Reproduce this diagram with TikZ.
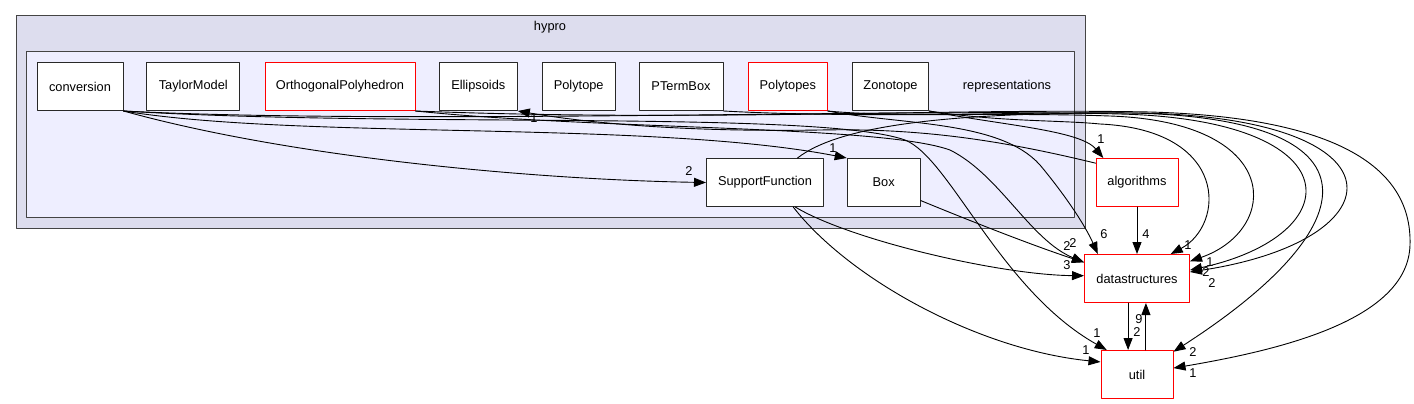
\documentclass[tikz,border=0pt]{standalone}
\usepackage{fontspec}
\setmainfont{Liberation Sans}
\usetikzlibrary{arrows.meta}

\definecolor{hyprofill}{RGB}{221,221,238}
\definecolor{reprfill}{RGB}{238,238,255}
\definecolor{frameline}{RGB}{68,68,68}
\definecolor{boxline}{RGB}{40,40,40}
\definecolor{redline}{RGB}{255,0,0}

\begin{document}
\begin{tikzpicture}[x=1pt,y=-1pt,line cap=round,line join=round,
    font=\fontsize{12.8}{15}\selectfont,
    dirbox/.style={draw=boxline,fill=white,line width=1pt,minimum height=48pt,inner sep=0pt},
    redbox/.style={dirbox,draw=redline},
    clusterframe/.style={draw=frameline,line width=1pt},
    dep/.style={-{Triangle[length=12pt,width=9pt]},line width=0.9pt},
    deplabel/.style={inner sep=0pt}]

    \useasboundingbox (0,0) rectangle (1414,404);

    % Carpetas contenedoras
    \draw[clusterframe,fill=hyprofill] (16,16) rectangle (1085,228);
    \draw[clusterframe,fill=reprfill] (26.7,51.7) rectangle (1074,217);
    \node (hypro) at (550,27) {hypro};
    \node (representations) at (1007,86.5) {representations};

    % Subcarpetas de representations
    \node[dirbox,minimum width=86pt] (conversion) at (80,86.5) {conversion};
    \node[dirbox,minimum width=93pt] (TaylorModel) at (193.3,86.5) {TaylorModel};
    \node[redbox,minimum width=150pt] (OrthogonalPolyhedron) at (340,86.5) {OrthogonalPolyhedron};
    \node[dirbox,minimum width=78pt] (Ellipsoids) at (478.3,86.5) {Ellipsoids};
    \node[dirbox,minimum width=73pt] (Polytope) at (578.7,86.5) {Polytope};
    \node[dirbox,minimum width=84pt] (PTermBox) at (681,86.5) {PTermBox};
    \node[redbox,minimum width=79pt] (Polytopes) at (787.8,86.5) {Polytopes};
    \node[dirbox,minimum width=76pt] (Zonotope) at (890.5,86.5) {Zonotope};
    \node[dirbox,minimum width=117pt] (SupportFunction) at (765,182.5) {SupportFunction};
    \node[dirbox,minimum width=73pt] (Box) at (883.7,182.5) {Box};

    % Carpetas externas
    \node[redbox,minimum width=82pt] (algorithms) at (1137,182.5) {algorithms};
    \node[redbox,minimum width=105pt] (datastructures) at (1137,278.5) {datastructures};
    \node[redbox,minimum width=72pt] (util) at (1137,374.5) {util};

    % Dependencias internas
    \draw[dep] (conversion.south east) .. controls (300,160) and (550,180) .. (SupportFunction.west);
    \draw[dep] (conversion.south east) .. controls (300,140) and (650,120) .. (Box.north west);
    \draw[dep] (algorithms.155) .. controls (1000,140) and (920,128) .. (820,130)
        .. controls (700,132) and (600,125) .. (Ellipsoids.south east);
    \draw[dep] (Zonotope.south east) .. controls (1000,125) and (1080,130) .. (algorithms.144);

    % Dependencias hacia abajo
    \draw[dep] (algorithms) -- (datastructures);
    \draw[dep] (datastructures.-110) -- (util.110);
    \draw[dep] (util.70) -- (datastructures.-70);
    \draw[dep] (Box.-26) .. controls (980,225) and (1040,248) .. (datastructures.163);
    \draw[dep] (SupportFunction.-39) .. controls (850,240) and (1000,275) .. (datastructures.177);
    \draw[dep] (SupportFunction.-41) .. controls (850,280) and (980,350) .. (util.161);
    \draw[dep] (conversion.south east) .. controls (400,128) and (820,110) .. (905,140)
        .. controls (950,158) and (1000,290) .. (util.141);
    \draw[dep] (OrthogonalPolyhedron.south east) .. controls (600,130) and (880,125) .. (950,150)
        .. controls (1000,175) and (1030,240) .. (datastructures.163);
    \draw[dep] (Polytopes.south east) .. controls (900,125) and (1000,120) .. (1040,165)
        .. controls (1065,195) and (1085,225) .. (datastructures.148);

    % Arcos por la derecha
    \draw[dep] (Zonotope.south east) .. controls (1000,122) and (1060,120) .. (1100,124)
        .. controls (1230,130) and (1225,225) .. (datastructures.36);
    \draw[dep] (PTermBox.south east) .. controls (850,118) and (1000,112) .. (1110,116)
        .. controls (1285,122) and (1280,230) .. (datastructures.18);
    \draw[dep] (conversion.south east) .. controls (400,125) and (900,108) .. (1120,114)
        .. controls (1355,120) and (1350,235) .. (datastructures.9);
    \draw[dep] (Polytopes.south east) .. controls (900,118) and (1000,112) .. (1130,113)
        .. controls (1385,118) and (1370,225) .. (util.32);
    \draw[dep] (SupportFunction.37) .. controls (840,125) and (950,112) .. (1140,113)
        .. controls (1410,118) and (1400,240) .. (datastructures.7);
    \draw[dep] (OrthogonalPolyhedron.south east) .. controls (700,122) and (950,108) .. (1150,112)
        .. controls (1360,118) and (1412,180) .. (1410,245)
        .. controls (1408,320) and (1280,350) .. (util.10);

    % Etiquetas de las aristas
    \foreach \lx/\ly/\t [count=\i] in {689/171/2, 833/148/1, 534/118/1, 1101/139/1,
        1146/234/4, 1104/234/6, 1067/246/2, 1073/243/2, 1067/265/3, 1188/245/1,
        1210/262/1, 1206/272/2, 1212/283/2, 1097/333/1, 1086/350/1, 1193/352/2,
        1193/373/1, 1139/319/9, 1137/332/2} {
        \node[deplabel] (lab\i) at (\lx,\ly) {\t};
    }
\end{tikzpicture}
\end{document}
